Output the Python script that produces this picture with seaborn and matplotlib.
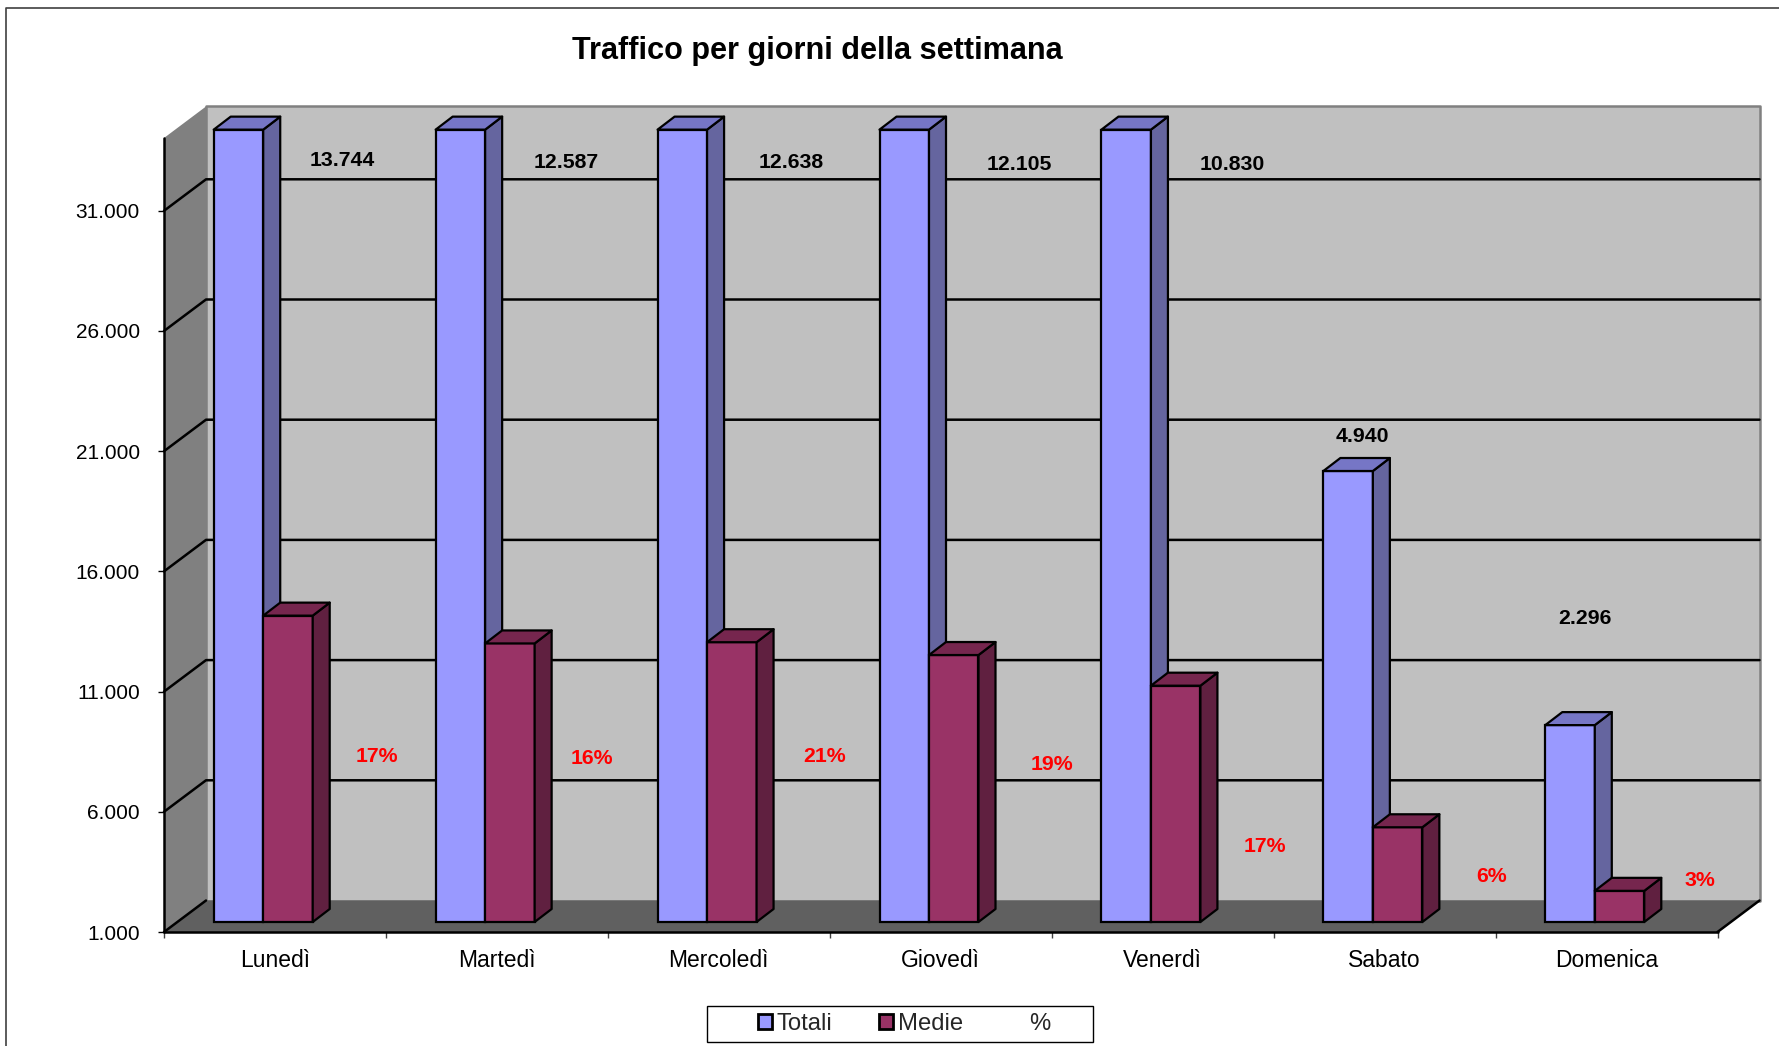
import pandas as pd
import matplotlib
matplotlib.use("Agg")
import matplotlib.pyplot as plt
import seaborn as sns
from matplotlib.lines import Line2D
from matplotlib.patches import Patch, Polygon, Rectangle
from matplotlib.transforms import Affine2D, IdentityTransform

# data (Totali is cut off by the top of the axis on the first five days)
giorni = ["Lunedì", "Martedì", "Mercoledì", "Giovedì", "Venerdì", "Sabato", "Domenica"]
totali = [33960, 33960, 33960, 33960, 33960, 19760, 9190]
medie = [13744, 12587, 12638, 12105, 10830, 4940, 2296]
percento = [17, 16, 21, 19, 17, 6, 3]
y_ticks = [1000, 6000, 11000, 16000, 21000, 26000, 31000]
y_tick_labels = ["1.000", "6.000", "11.000", "16.000", "21.000", "26.000", "31.000"]
medie_labels = ["13.744", "12.587", "12.638", "12.105", "10.830", "4.940", "2.296"]
percento_labels = ["17%", "16%", "21%", "19%", "17%", "6%", "3%"]

# label places in reference pixels, they were moved by hand in the original
medie_pos = [(342, 161), (566, 163), (791, 163), (1019, 165), (1232, 165), (1362, 436), (1585, 619)]
percento_pos = [(377, 757), (592, 759), (825, 757), (1052, 765), (1265, 847), (1492, 877), (1700, 881)]

W, H = 1779, 1046
AX_L, AX_R, AX_T, AX_B = 164, 1717.5, 138, 932
WALL_DX, WALL_DY = 42, 31.5   # depth of the whole box
BAR_DX, BAR_DY = 13, 10       # bars sit a bit behind the front edge
SIDE_DX, SIDE_DY = 17, 13     # depth of a bar

sns.set_theme(style="white")
plt.rcParams["font.family"] = ["Liberation Sans", "DejaVu Sans"]

df = pd.DataFrame({
    "giorno": giorni * 3,
    "serie": ["Totali"] * 7 + ["Medie"] * 7 + ["%"] * 7,
    "valore": totali + medie + percento,
})

fig = plt.figure(figsize=(W / 100, H / 100), dpi=100)
ax = fig.add_axes([AX_L / W, 1 - AX_B / H, (AX_R - AX_L) / W, (AX_B - AX_T) / H])

colori = {"Totali": "#9999FF", "Medie": "#993366", "%": "#FFFFCC"}
sns.barplot(data=df, x="giorno", y="valore", hue="serie", hue_order=["Totali", "Medie", "%"],
            palette=colori, saturation=1, width=0.669, edgecolor="black", linewidth=1.6,
            legend=False, ax=ax)

ymin, ymax = 1000, 34028
ax.set_xlim(-0.5, 6.5)
ax.set_ylim(ymin, ymax)
ax.set_xlabel("")
ax.set_ylabel("")
for s in ax.spines.values():
    s.set_visible(False)


def px(x, y, dx=0, dy=0):
    p = ax.transData.transform((x, y))
    return (p[0] + dx, p[1] + dy)


def face(points, color, z, edge="black", lw=1.6):
    ax.add_patch(Polygon(points, closed=True, facecolor=color, edgecolor=edge, linewidth=lw,
                         transform=IdentityTransform(), clip_on=False, zorder=z, joinstyle="round"))


# box: back wall, left wall, floor
x0, x1 = -0.5, 6.5
face([px(x0, ymin, WALL_DX, WALL_DY), px(x1, ymin, WALL_DX, WALL_DY),
      px(x1, ymax, WALL_DX, WALL_DY), px(x0, ymax, WALL_DX, WALL_DY)], "#C0C0C0", 0.5, "#808080", 1.8)
face([px(x0, ymin), px(x0, ymax), px(x0, ymax, WALL_DX, WALL_DY), px(x0, ymin, WALL_DX, WALL_DY)],
     "#808080", 0.6, "none", 0)
face([px(x0, ymin), px(x1, ymin), px(x1, ymin, WALL_DX, WALL_DY), px(x0, ymin, WALL_DX, WALL_DY)],
     "#606060", 0.7, "none", 0)

# gridlines go along the side wall and then across the back wall
for v in y_ticks[1:]:
    gx = [px(x0, v), px(x0, v, WALL_DX, WALL_DY), px(x1, v, WALL_DX, WALL_DY)]
    ax.add_line(Line2D([p[0] for p in gx], [p[1] for p in gx], color="black", lw=1.8,
                       transform=IdentityTransform(), clip_on=False, zorder=1))

# front edges of the box
for a, b in [(px(x0, ymin), px(x1, ymin)),
             (px(x0, ymin), px(x0, ymax)),
             (px(x0, ymin), px(x0, ymin, WALL_DX, WALL_DY)),
             (px(x1, ymin), px(x1, ymin, WALL_DX, WALL_DY))]:
    ax.add_line(Line2D([a[0], b[0]], [a[1], b[1]], color="black", lw=1.8,
                       transform=IdentityTransform(), clip_on=False, zorder=1.5))

# bars: seaborn draws the front, the side and top come from its rectangles
shade = [("#65659F", "#7676C6", 3), ("#602040", "#76264E", 4)]
shift = ax.transData + Affine2D().translate(BAR_DX, BAR_DY)
for cont, (side, top, z) in zip(ax.containers[:2], shade):
    for bar in cont:
        val = bar.get_height()
        bar.set_y(ymin)
        bar.set_height(val - ymin)
        bar.set_transform(shift)
        bar.set_clip_on(False)
        bar.set_zorder(z)
        xa, xb = bar.get_x(), bar.get_x() + bar.get_width()
        ox, oy = BAR_DX, BAR_DY
        face([px(xb, ymin, ox, oy), px(xb, val, ox, oy),
              px(xb, val, ox + SIDE_DX, oy + SIDE_DY), px(xb, ymin, ox + SIDE_DX, oy + SIDE_DY)], side, z)
        face([px(xa, val, ox, oy), px(xb, val, ox, oy),
              px(xb, val, ox + SIDE_DX, oy + SIDE_DY), px(xa, val, ox + SIDE_DX, oy + SIDE_DY)], top, z)
# the % series is far below the start of the axis
for bar in ax.containers[2]:
    bar.set_visible(False)

# ticks
ax.set_yticks(y_ticks)
ax.set_yticklabels(y_tick_labels, fontsize=15, color="black")
ax.tick_params(axis="y", left=True, length=4.5, width=1, color="black", pad=13)
ax.tick_params(axis="x", which="major", bottom=False, labelsize=16.5, labelcolor="black", pad=6)
ax.set_xticks([-0.5, 0.5, 1.5, 2.5, 3.5, 4.5, 5.5, 6.5], minor=True)
ax.tick_params(axis="x", which="minor", bottom=True, length=4.5, width=1, color="#404040")


def testo(x, y, s, **kw):
    fig.text(x / W, 1 - y / H, s, ha="center", va="center", **kw)


for (x, y), s in zip(medie_pos, medie_labels):
    testo(x, y, s, fontsize=15.3, fontweight="bold", color="black", zorder=6)
for (x, y), s in zip(percento_pos, percento_labels):
    # the 19% label has a grey box that eats a bit of the gridline below it
    box = dict(facecolor="#C0C0C0", edgecolor="none", pad=2) if s == "19%" else None
    testo(x, y, s, fontsize=15.3, fontweight="bold", color="#FF0000", zorder=6, bbox=box)

testo(817.5, 51, "Traffico per giorni della settimana", fontsize=22.1, fontweight="bold", color="black")

# legend box and entries
fig.add_artist(Rectangle((706.7 / W, 1 - 1042 / H), 386.3 / W, 36 / H, facecolor="white", edgecolor="black",
                         linewidth=1, transform=fig.transFigure))
handles = [Patch(facecolor="#9999FF", edgecolor="black", linewidth=2),
           Patch(facecolor="#993366", edgecolor="black", linewidth=2),
           Patch(facecolor="none", edgecolor="none")]
leg = fig.legend(handles, ["Totali", "Medie", "%"], ncol=3, fontsize=17.2, frameon=False,
                 loc="center", bbox_to_anchor=(904 / W, 1 - 1024 / H),
                 handlelength=0.6, handleheight=0.6, handletextpad=0.2, columnspacing=1.95, borderpad=0)

# outer chart border, only left and top fall inside the picture
fig.add_artist(Line2D([6 / W, 6 / W, 1], [0, 1 - 7.5 / H, 1 - 7.5 / H], color="#404040", lw=1.2,
                      transform=fig.transFigure))

fig.savefig("out.png", dpi=100, facecolor="white")
